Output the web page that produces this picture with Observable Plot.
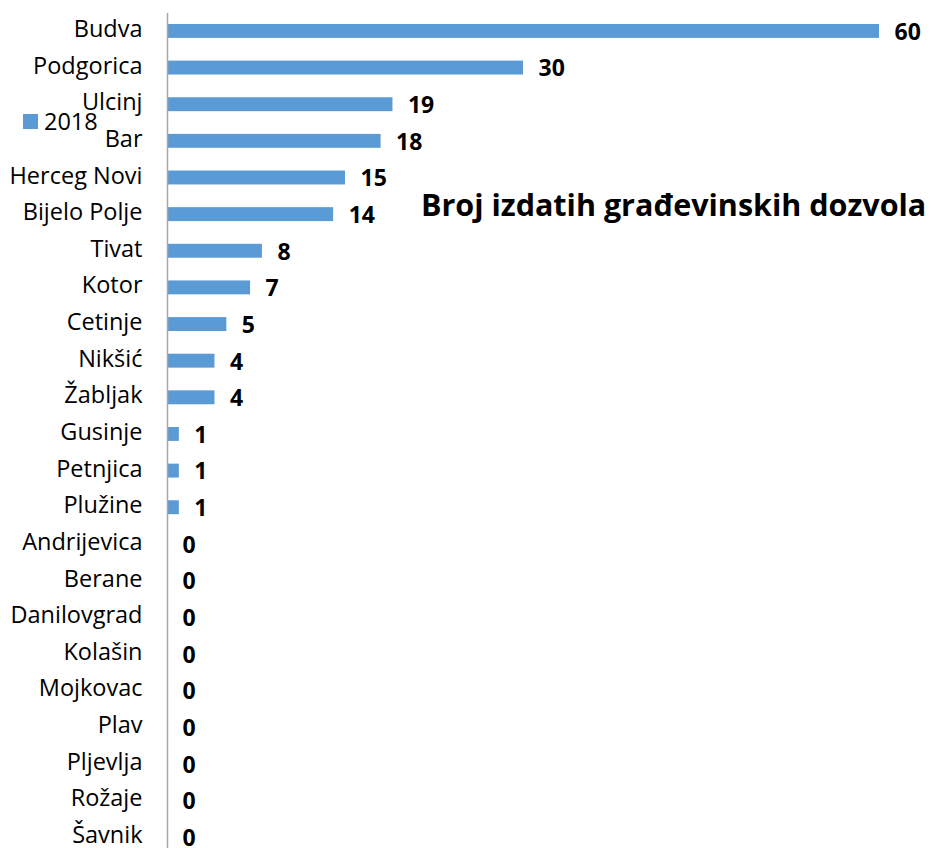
<!DOCTYPE html>
<html>
<head>
<meta charset="utf-8">
<script src="https://cdn.jsdelivr.net/npm/d3@7"></script>
<script src="https://cdn.jsdelivr.net/npm/@observablehq/plot@0.6"></script>
<style>
  html, body { margin: 0; padding: 0; background: #fff; }
  #wrap { position: relative; width: 931px; height: 848px; font-family: "Open Sans", Lato, sans-serif; }
  #title { position: absolute; left: 421px; top: 184px; font-size: 30.5px; font-weight: bold; color: #000; white-space: nowrap; line-height: 40px; }
  #legend { position: absolute; left: 23px; top: 105px; font-size: 23.5px; color: #000; display: flex; align-items: center; line-height: 32px; }
  #legend .sw { width: 15px; height: 15px; background: #5B9BD5; margin-right: 6px; }
</style>
</head>
<body>
<div id="wrap">
  <div id="chart"></div>
  <div id="legend"><span class="sw"></span><span id="legendLabel"></span></div>
  <div id="title"></div>
</div>
<script>
const titleText = "Broj izdatih građevinskih dozvola";
const seriesName = "2018";
const municipalities = ["Budva","Podgorica","Ulcinj","Bar","Herceg Novi","Bijelo Polje","Tivat","Kotor","Cetinje","Nikšić","Žabljak","Gusinje","Petnjica","Plužine","Andrijevica","Berane","Danilovgrad","Kolašin","Mojkovac","Plav","Pljevlja","Rožaje","Šavnik"];
const permits = [60,30,19,18,15,14,8,7,5,4,4,1,1,1,0,0,0,0,0,0,0,0,0];

const data = municipalities.map((m, i) => ({municipality: m, value: permits[i]}));

document.getElementById("title").textContent = titleText;
document.getElementById("legendLabel").textContent = seriesName;

const chart = Plot.plot({
  width: 931,
  height: 848,
  marginLeft: 167,
  marginRight: 52,
  marginTop: 13,
  marginBottom: 0,
  style: {fontFamily: "'Open Sans', Lato, sans-serif", fontSize: "23.5px", color: "#000", background: "#fff"},
  x: {domain: [0, 60], axis: null},
  y: {domain: municipalities, paddingInner: 0.62, paddingOuter: 0.205, align: 0.73, round: false, axis: null},
  marks: [
    Plot.barX(data, {x: "value", y: "municipality", fill: "#5B9BD5"}),
    Plot.ruleX([0], {stroke: "#A6A6A6", strokeWidth: 1.5}),
    Plot.text(data, {x: "value", y: "municipality", text: d => String(d.value), textAnchor: "start", dx: 15, dy: 1, fontWeight: "bold", fontSize: 23, fill: "#000"}),
    Plot.axisY({tickSize: 0, tickPadding: 25, fontSize: 23.5, label: null, fill: "#000", dy: -2})
  ]
});
document.getElementById("chart").appendChild(chart);
</script>
</body>
</html>
